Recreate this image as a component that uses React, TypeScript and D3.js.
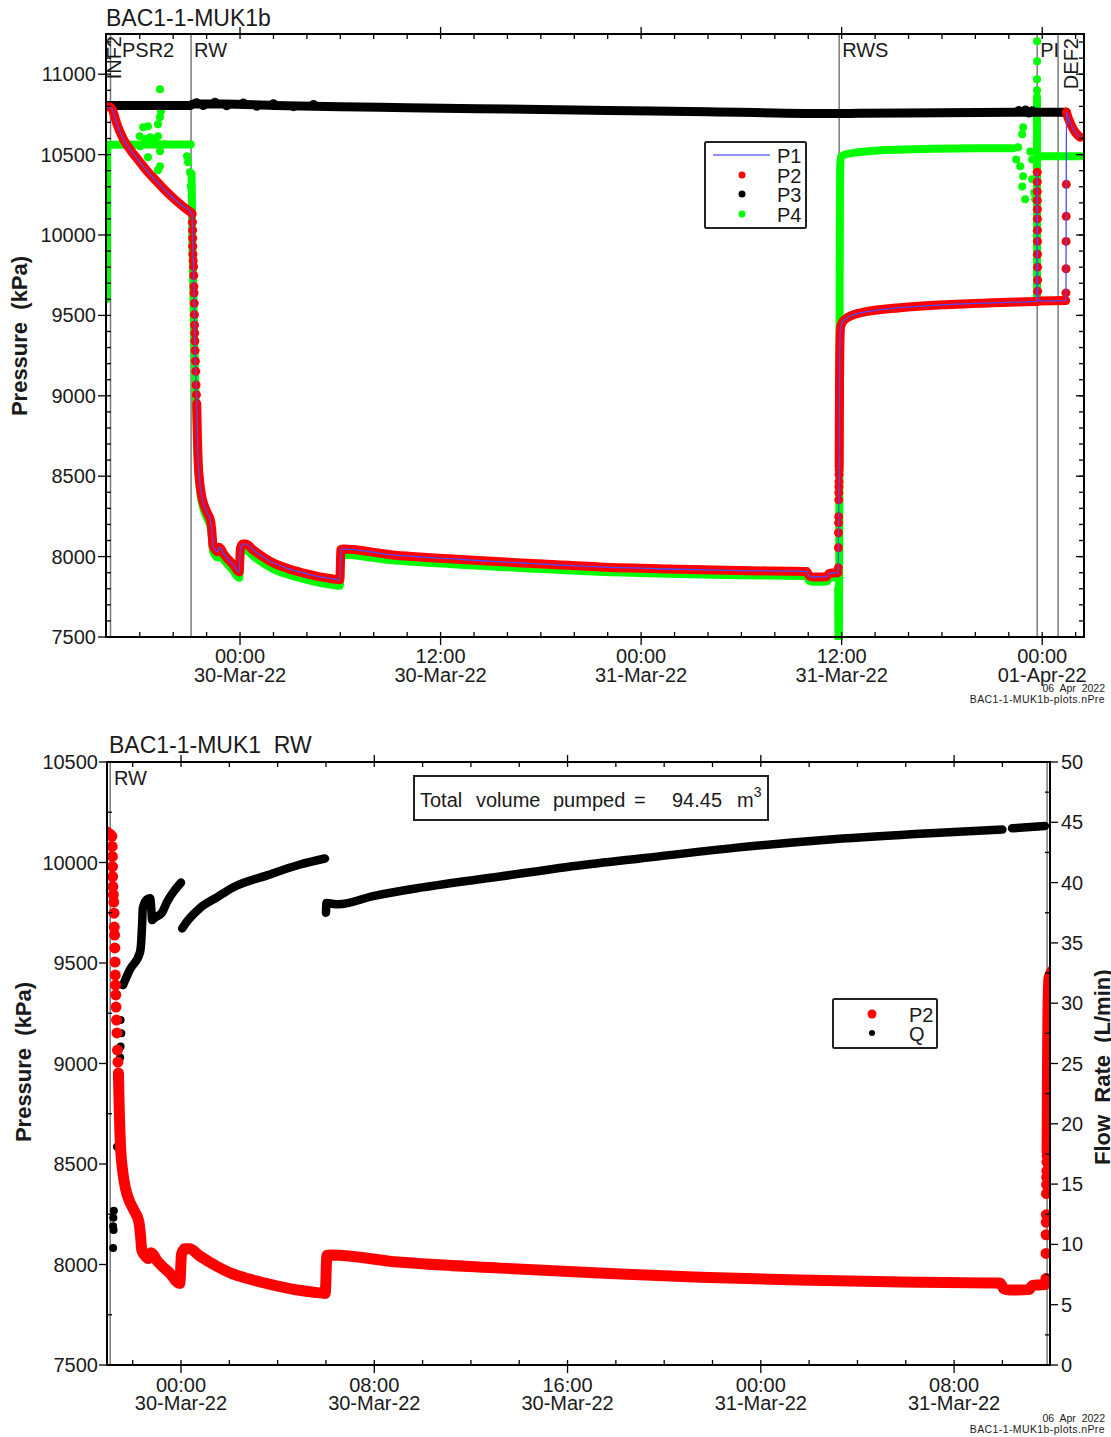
import React, { useEffect, useRef } from 'react';
import * as d3 from 'd3';

type Pt = [number, number]; // [hours from 30-Mar-22 00:00, value]

const FONT = '"Liberation Sans", Arial, Helvetica, sans-serif';
const BASE = new Date(2022, 2, 30, 0, 0, 0).getTime();
const toDate = (h: number) => new Date(BASE + h * 3600 * 1000);

// test periods (start, hours)
const EVENT_NAMES = ['INF2', 'PSR2', 'RW', 'RWS', 'PI', 'DEF2'];
const EVENT_HOURS = [-8.02, -7.75, -2.93, 35.85, 47.7, 48.95];

const TOP_HOURS: Pt = [-8.02, 50.5];
const RW_HOURS: Pt = [-3.063, 35.97];

const TOP_Y_TICKS = [7500, 8000, 8500, 9000, 9500, 10000, 10500, 11000];
const BOTTOM_Y_TICKS = [7500, 8000, 8500, 9000, 9500, 10000, 10500];
const Q_TICKS = [0, 5, 10, 15, 20, 25, 30, 35, 40, 45, 50];

// P1 / P2 (kPa) — continuous runs
const P2_LINES: Pt[][] = [
  [[-8.02, 10800], [-7.75, 10795], [-7.6, 10770], [-7.4, 10700], [-7.0, 10600], [-6.5, 10520], [-6.0, 10455],
   [-5.5, 10390], [-5.0, 10335], [-4.5, 10280], [-4.0, 10230], [-3.5, 10185], [-2.93, 10140]],
  [[-2.59, 8953], [-2.55, 8740], [-2.5, 8580], [-2.42, 8470], [-2.3, 8380], [-2.15, 8320], [-1.95, 8270],
   [-1.75, 8215], [-1.68, 8150], [-1.62, 8070], [-1.5, 8045], [-1.35, 8030], [-1.25, 8058], [-1.15, 8050],
   [-1.0, 8020], [-0.85, 8000], [-0.45, 7955], [-0.05, 7905], [0.02, 8050], [0.15, 8078], [0.35, 8078],
   [0.8, 8040], [1.5, 7990], [2.0, 7960], [2.9, 7925], [4.0, 7893], [4.9, 7872], [5.5, 7862], [5.97, 7856],
   [6.04, 8045], [6.2, 8047], [9.0, 8012], [13.2, 7982], [17.3, 7958], [21.5, 7936], [25.6, 7923],
   [29.8, 7913], [33.9, 7908], [34.05, 7880], [34.3, 7873], [35.1, 7875], [35.25, 7896], [35.5, 7898],
   [35.78, 7900]],
  [[35.85, 8560], [35.86, 8800], [35.87, 9050], [35.885, 9250], [35.905, 9370], [35.93, 9425], [36.0, 9448],
   [36.2, 9475], [37.1, 9515], [39.5, 9548], [42.5, 9568], [45.0, 9578], [47.68, 9587]],
  [[47.76, 9590], [49.41, 9592]],
  [[49.45, 10765], [49.5, 10745], [49.7, 10692], [49.97, 10640], [50.27, 10608]],
];

// P2 — separate samples on the fast changes
const P2_DOTS: Pt[] = [
  [-2.86, 10130], [-2.85, 10080], [-2.84, 10030], [-2.835, 9980], [-2.83, 9930], [-2.82, 9880], [-2.8, 9840],
  [-2.78, 9803], [-2.77, 9748], [-2.76, 9679], [-2.75, 9639], [-2.74, 9575], [-2.73, 9505], [-2.72, 9440],
  [-2.71, 9390], [-2.7, 9341], [-2.69, 9281], [-2.67, 9216], [-2.65, 9152], [-2.63, 9067], [-2.61, 9007],
  [35.8, 7930], [35.805, 8055], [35.81, 8148], [35.815, 8210], [35.82, 8248], [35.825, 8353], [35.83, 8397],
  [35.835, 8434], [35.84, 8466], [35.845, 8509], [35.85, 8540],
  [47.7, 10390], [47.702, 10330], [47.704, 10270], [47.706, 10215], [47.708, 10160], [47.71, 10100],
  [47.712, 10030], [47.714, 9960], [47.716, 9880], [47.718, 9800], [47.72, 9720], [47.722, 9650],
  [49.42, 9640], [49.425, 9790], [49.43, 9960], [49.435, 10116], [49.44, 10315],
];

// P3 (kPa)
const P3_LINES: Pt[][] = [
  [[-8.02, 10805], [-3.0, 10805], [-2.8, 10815], [-1.0, 10814], [2.0, 10806], [6.0, 10798], [10, 10792],
   [16, 10783], [22, 10775], [28, 10767], [35.8, 10755], [37, 10757], [42, 10760], [47, 10763], [49.45, 10763]],
];
const P3_DOTS: Pt[] = [
  [-2.6, 10823], [-2.2, 10805], [-1.5, 10826], [-0.8, 10804], [0.2, 10821], [1.0, 10801], [2.0, 10816],
  [3.2, 10798], [4.4, 10812],
  [46.6, 10775], [46.8, 10768], [47.0, 10778], [47.2, 10758], [47.4, 10772], [47.5, 10765],
];

// P4 (kPa)
const P4_LINES: Pt[][] = [
  [[-7.99, 9600], [-7.98, 9900], [-7.97, 10300], [-7.955, 10540], [-7.9, 10562], [-5.0, 10563], [-2.95, 10563]],
  [[-2.9, 10380], [-2.85, 9950], [-2.8, 9700], [-2.76, 9450], [-2.72, 9250], [-2.66, 9000], [-2.6, 8840],
   [-2.5, 8540], [-2.42, 8435], [-2.3, 8345], [-2.15, 8285], [-1.95, 8235], [-1.75, 8180], [-1.68, 8115],
   [-1.62, 8035], [-1.5, 8010], [-1.35, 7995], [-1.25, 8020], [-1.15, 8015], [-1.0, 7985], [-0.85, 7965],
   [-0.45, 7918], [-0.05, 7868], [0.02, 8012], [0.15, 8040], [0.35, 8040], [0.8, 8002], [1.5, 7952],
   [2.0, 7922], [2.9, 7887], [4.0, 7855], [4.9, 7834], [5.5, 7824], [5.97, 7818], [6.04, 8010], [6.2, 8012],
   [9.0, 7978], [13.2, 7950], [17.3, 7926], [21.5, 7905], [25.6, 7893], [29.8, 7884], [33.9, 7880],
   [34.05, 7850], [34.3, 7843], [35.1, 7845], [35.25, 7866], [35.5, 7870], [35.78, 7872]],
  [[35.79, 7800], [35.8, 7600], [35.81, 7480], [35.83, 7470], [35.845, 7700], [35.86, 8300], [35.87, 9000],
   [35.88, 9700], [35.895, 10200], [35.91, 10420], [35.95, 10485], [36.2, 10500], [37.0, 10515],
   [38.5, 10528], [41, 10535], [44, 10540], [46.26, 10540]],
  [[47.688, 10860], [47.692, 9600]],
  [[47.76, 10490], [50.3, 10490]],
];
const P4_DOTS: Pt[] = [
  [-6.0, 10614], [-5.98, 10552], [-5.8, 10670], [-5.69, 10595], [-5.51, 10676], [-5.51, 10483],
  [-5.39, 10608], [-5.27, 10577], [-5.09, 10595], [-4.91, 10689], [-4.91, 10614], [-4.91, 10402],
  [-4.79, 10907], [-4.79, 10732], [-4.79, 10521], [-4.79, 10427], [-4.73, 10770], [-4.49, 10564],
  [-3.17, 10489], [-3.11, 10452], [-2.99, 10390], [-2.95, 10303],
  [46.44, 10470], [46.56, 10545], [46.68, 10427], [46.8, 10626], [46.8, 10302], [46.86, 10670],
  [46.86, 10365], [46.98, 10222], [47.28, 10520], [47.4, 10470], [47.4, 10346], [47.52, 10265],
  [47.58, 10222], [47.69, 11205], [47.69, 11081], [47.69, 10969], [47.69, 10900],
];

// Q (L/min), RW period
const Q_LINES: Pt[][] = [
  [[-2.4, 31.5], [-2.11, 32.8], [-1.7, 34.2], [-1.65, 35.0], [-1.61, 36.5], [-1.58, 37.9], [-1.41, 38.6],
   [-1.28, 38.7], [-1.22, 37.5], [-1.2, 36.9], [-1.08, 37.1], [-0.79, 37.5], [-0.58, 38.4], [-0.25, 39.4],
   [0.0, 40.0]],
  [[0.05, 36.2], [0.3, 36.9], [0.79, 37.9], [1.5, 38.8], [2.15, 39.6], [3.56, 40.6], [4.93, 41.5], [5.96, 42.0]],
  [[6.0, 37.5], [6.02, 38.3], [6.5, 38.2], [8.0, 38.9], [10, 39.6], [13.2, 40.5], [16.0, 41.3], [19.0, 42.0],
   [23.0, 42.9], [27.0, 43.6], [31.0, 44.1], [34.0, 44.4]],
  [[34.4, 44.5], [35.76, 44.7]],
];
const Q_DOTS: Pt[] = [
  [-2.81, 9.7], [-2.81, 11.5], [-2.8, 12.2], [-2.79, 11.2], [-2.78, 12.8], [-2.65, 18.1], [-2.52, 24.0],
  [-2.52, 25.5], [-2.5, 26.4], [-2.47, 27.5], [-2.5, 28.6],
];

type Sel = d3.Selection<any, unknown, null, undefined>;

function text(g: Sel, x: number, y: number, s: string, size: number, anchor = 'start') {
  return g.append('text').attr('x', x).attr('y', y).attr('font-size', size).attr('text-anchor', anchor)
    .attr('fill', '#1a1a1a').style('white-space', 'pre').text(s);
}

function tickLines(g: Sel, vals: number[], pos: (v: number) => number, side: string, at: number, len: number) {
  vals.forEach(v => {
    const p = pos(v);
    const l = g.append('line').attr('stroke', '#000').attr('stroke-width', 1.3);
    if (side === 'bottom') l.attr('x1', p).attr('x2', p).attr('y1', at).attr('y2', at + len);
    if (side === 'top') l.attr('x1', p).attr('x2', p).attr('y1', at).attr('y2', at - len);
    if (side === 'left') l.attr('y1', p).attr('y2', p).attr('x1', at).attr('x2', at - len);
    if (side === 'right') l.attr('y1', p).attr('y2', p).attr('x1', at).attr('x2', at + len);
  });
}

function drawSeries(plot: Sel, line: d3.Line<Pt>, sx: (h: number) => number, sy: (v: number) => number,
  lines: Pt[][], dots: Pt[], color: string, width: number, r: number) {
  lines.forEach(seg => {
    plot.append('path').attr('d', line(seg) as string).attr('fill', 'none').attr('stroke', color)
      .attr('stroke-width', width).attr('stroke-linecap', 'round').attr('stroke-linejoin', 'round');
  });
  plot.selectAll(null).data(dots).join('circle')
    .attr('cx', d => sx(d[0])).attr('cy', d => sy(d[1])).attr('r', r).attr('fill', color);
}

function timeLabels(g: Sel, x: d3.ScaleTime<number, number>, vals: Date[], y1: number, y2: number) {
  const fh = d3.timeFormat('%H:%M');
  const fd = d3.timeFormat('%d-%b-%y');
  vals.forEach(d => {
    text(g, x(d), y1, fh(d), 20, 'middle');
    text(g, x(d), y2, fd(d), 20, 'middle');
  });
}

function drawTop(svg: Sel) {
  const L = 106, R = 1084, T = 34, B = 637;
  const x = d3.scaleTime().domain([toDate(TOP_HOURS[0]), toDate(TOP_HOURS[1])]).range([L, R]);
  const y = d3.scaleLinear().domain([7500, 11250]).range([B, T]);
  const sx = (h: number) => x(toDate(h));
  const line = d3.line<Pt>().x(d => sx(d[0])).y(d => y(d[1])).curve(d3.curveMonotoneX);
  const g = svg.append('g');

  svg.append('clipPath').attr('id', 'clip-top').append('rect')
    .attr('x', L).attr('y', T).attr('width', R - L).attr('height', B - T + 3);
  const plot = g.append('g').attr('clip-path', 'url(#clip-top)');

  EVENT_HOURS.slice(1).forEach(h => {
    plot.append('line').attr('x1', sx(h)).attr('x2', sx(h)).attr('y1', T).attr('y2', B)
      .attr('stroke', '#7a7a7a').attr('stroke-width', 1.5);
  });

  drawSeries(plot, line, sx, y, P4_LINES, P4_DOTS, '#00ff00', 8, 4);
  drawSeries(plot, line, sx, y, P3_LINES, P3_DOTS, '#000', 9, 4.5);
  drawSeries(plot, line, sx, y, P2_LINES, P2_DOTS, '#ff0000', 9, 4.5);
  const p1 = [...P2_LINES.flat(), ...P2_DOTS].sort((a, b) => a[0] - b[0]);
  plot.append('path').attr('d', line(p1) as string).attr('fill', 'none')
    .attr('stroke', '#4b4bff').attr('stroke-width', 1.3);

  // frame
  g.append('rect').attr('x', L).attr('y', T).attr('width', R - L).attr('height', B - T)
    .attr('fill', 'none').attr('stroke', '#000').attr('stroke-width', 2);

  const major = d3.timeHour.every(12)!.range(x.domain()[0], x.domain()[1]);
  const minor = d3.timeHour.every(2)!.range(x.domain()[0], x.domain()[1]);
  const tx = (v: number) => x(new Date(v));
  tickLines(g, major.map(Number), tx, 'bottom', B, 8);
  tickLines(g, minor.map(Number), tx, 'bottom', B, -5);
  tickLines(g, major.map(Number), tx, 'top', T, 7);
  tickLines(g, minor.map(Number), tx, 'top', T, -5);
  timeLabels(g, x, major, 663, 682);

  const minorY = d3.range(7600, 11250, 100);
  tickLines(g, TOP_Y_TICKS, y, 'left', L, 8);
  tickLines(g, minorY, y, 'left', L, -5);
  tickLines(g, TOP_Y_TICKS, y, 'right', R, -8);
  tickLines(g, minorY, y, 'right', R, -5);
  TOP_Y_TICKS.forEach(v => text(g, 96, y(v) + 7, String(v), 20, 'end'));

  // period labels
  const labelDx = [15, 11.5, 3, 3, 3, 20];
  EVENT_NAMES.forEach((name, i) => {
    const px = sx(EVENT_HOURS[i]) + labelDx[i];
    if (name === 'INF2' || name === 'DEF2') {
      text(g, 0, 0, name, 20, 'end').attr('transform', `translate(${px},${name === 'INF2' ? 36 : 38}) rotate(-90)`);
    } else {
      text(g, px, 57, name, 20);
    }
  });

  text(g, 106, 26, 'BAC1-1-MUK1b', 23);
  text(g, 0, 0, 'Pressure  (kPa)', 22, 'middle').attr('font-weight', 'bold')
    .attr('transform', 'translate(27,336) rotate(-90)');

  // legend
  const lg = g.append('g');
  lg.append('rect').attr('x', 705).attr('y', 142).attr('width', 101).attr('height', 86).attr('rx', 1.5)
    .attr('fill', '#fff').attr('stroke', '#222').attr('stroke-width', 2);
  lg.append('line').attr('x1', 713).attr('x2', 770).attr('y1', 155).attr('y2', 155)
    .attr('stroke', '#6b6bff').attr('stroke-width', 1.3);
  [['P2', '#ff0000', 175], ['P3', '#000', 194], ['P4', '#00ff00', 214]].forEach(([, c, yy]) => {
    lg.append('circle').attr('cx', 742).attr('cy', yy as number).attr('r', 3.5).attr('fill', c as string);
  });
  ['P1', 'P2', 'P3', 'P4'].forEach((s, i) => text(lg, 777, 163 + i * 19.5, s, 20));

  text(g, 1105, 692, '06  Apr  2022', 10.5, 'end');
  text(g, 1105, 703, 'BAC1-1-MUK1b-plots.nPre', 10.5, 'end').attr('letter-spacing', 0.4);
}

function drawBottom(svg: Sel) {
  const L = 107, R = 1050, T = 762, B = 1365;
  const x = d3.scaleTime().domain([toDate(RW_HOURS[0]), toDate(RW_HOURS[1])]).range([L, R]);
  const y = d3.scaleLinear().domain([7500, 10500]).range([B, T]);
  const yq = d3.scaleLinear().domain([0, 50]).range([B, T]);
  const sx = (h: number) => x(toDate(h));
  const line = d3.line<Pt>().x(d => sx(d[0])).y(d => y(d[1])).curve(d3.curveMonotoneX);
  const lineQ = d3.line<Pt>().x(d => sx(d[0])).y(d => yq(d[1])).curve(d3.curveMonotoneX);
  const g = svg.append('g');

  svg.append('clipPath').attr('id', 'clip-bottom').append('rect')
    .attr('x', L).attr('y', T).attr('width', R - L).attr('height', B - T);
  const plot = g.append('g').attr('clip-path', 'url(#clip-bottom)');

  [EVENT_HOURS[2], EVENT_HOURS[3]].forEach(h => {
    plot.append('line').attr('x1', sx(h)).attr('x2', sx(h)).attr('y1', T).attr('y2', B)
      .attr('stroke', '#7a7a7a').attr('stroke-width', 1.5);
  });

  drawSeries(plot, lineQ, sx, yq, Q_LINES, Q_DOTS, '#000', 8.5, 4);
  drawSeries(plot, line, sx, y, P2_LINES, P2_DOTS, '#ff0000', 11, 5.5);

  g.append('rect').attr('x', L).attr('y', T).attr('width', R - L).attr('height', B - T)
    .attr('fill', 'none').attr('stroke', '#000').attr('stroke-width', 2);

  const major = d3.timeHour.every(8)!.range(x.domain()[0], x.domain()[1]);
  const minor = d3.timeHour.every(2)!.range(x.domain()[0], x.domain()[1]);
  const tx = (v: number) => x(new Date(v));
  tickLines(g, major.map(Number), tx, 'bottom', B, 8);
  tickLines(g, minor.map(Number), tx, 'bottom', B, -5);
  tickLines(g, major.map(Number), tx, 'top', T, 7);
  tickLines(g, minor.map(Number), tx, 'top', T, -5);
  timeLabels(g, x, major, 1392, 1410);

  tickLines(g, BOTTOM_Y_TICKS, y, 'left', L, 8);
  tickLines(g, d3.range(7750, 10500, 500), y, 'left', L, -5);
  BOTTOM_Y_TICKS.forEach(v => text(g, 98, y(v) + 7, String(v), 20, 'end'));
  tickLines(g, Q_TICKS, yq, 'right', R, 8);
  tickLines(g, d3.range(2.5, 50, 5), yq, 'right', R, -5);
  Q_TICKS.forEach(v => text(g, 1061, yq(v) + 7, String(v), 20));

  text(g, 114, 785, 'RW', 20);
  text(g, 109, 753, 'BAC1-1-MUK1  RW', 23);
  text(g, 0, 0, 'Pressure  (kPa)', 22, 'middle').attr('font-weight', 'bold')
    .attr('transform', 'translate(31,1062) rotate(-90)');
  text(g, 0, 0, 'Flow  Rate  (L/min)', 22, 'start').attr('font-weight', 'bold')
    .attr('transform', 'translate(1110,1165) rotate(-90)');

  // total volume box
  g.append('rect').attr('x', 414).attr('y', 776).attr('width', 354).attr('height', 44)
    .attr('fill', '#fff').attr('stroke', '#222').attr('stroke-width', 2);
  const vt = g.append('text').attr('y', 807).attr('font-size', 20).attr('fill', '#1a1a1a');
  [['Total', 420], ['volume', 476], ['pumped', 553], ['=', 634], ['94.45', 672], ['m', 737]].forEach(([s, px]) => {
    vt.append('tspan').attr('x', px as number).text(s as string);
  });
  vt.append('tspan').attr('font-size', 14).attr('dy', -10).text('3');

  // legend
  const lg = g.append('g');
  lg.append('rect').attr('x', 833).attr('y', 999).attr('width', 104).attr('height', 49).attr('rx', 1.5)
    .attr('fill', '#fff').attr('stroke', '#222').attr('stroke-width', 2);
  lg.append('circle').attr('cx', 872).attr('cy', 1014).attr('r', 4.5).attr('fill', '#ff0000');
  lg.append('circle').attr('cx', 872).attr('cy', 1033).attr('r', 3).attr('fill', '#000');
  text(lg, 909, 1022, 'P2', 20);
  text(lg, 909, 1041, 'Q', 20);

  text(g, 1105, 1422, '06  Apr  2022', 10.5, 'end');
  text(g, 1105, 1433, 'BAC1-1-MUK1b-plots.nPre', 10.5, 'end').attr('letter-spacing', 0.4);
}

export default function App() {
  const svgRef = useRef<SVGSVGElement>(null);

  useEffect(() => {
    if (!svgRef.current) return;
    const svg = d3.select(svgRef.current);
    svg.selectAll('*').remove();
    drawTop(svg as Sel);
    drawBottom(svg as Sel);
  }, []);

  return (
    <svg
      ref={svgRef}
      width={1111}
      height={1437}
      style={{ position: 'absolute', left: 0, top: 0, background: '#fff', fontFamily: FONT }}
    />
  );
}
